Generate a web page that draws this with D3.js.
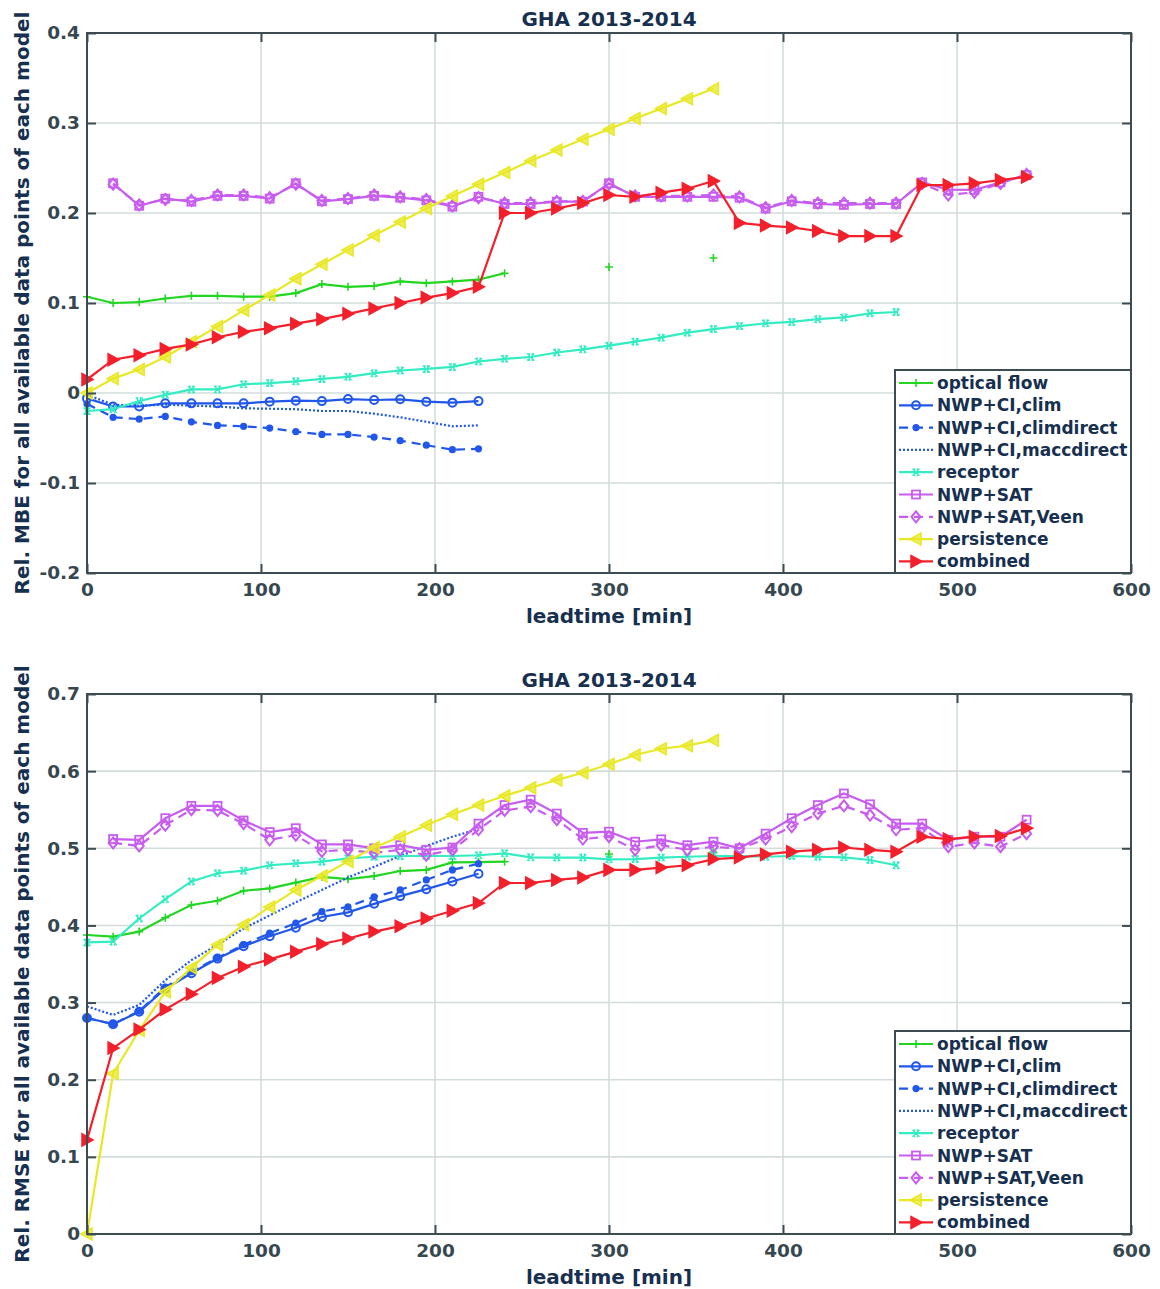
<!DOCTYPE html>
<html>
<head>
<meta charset="utf-8">
<script src="https://cdn.jsdelivr.net/npm/d3@7"></script>
<style>
body { margin: 0; background: #fff; }
text { font-family: "DejaVu Sans", Verdana, sans-serif; font-weight: bold; }
</style>
</head>
<body>
<script>
// eje x: tiempo de previsión (min)
var leadtime = [0, 15, 30, 45, 60, 75, 90, 105, 120, 135, 150, 165, 180, 195, 210, 225, 240, 255, 270, 285,
                300, 315, 330, 345, 360, 375, 390, 405, 420, 435, 450, 465, 480, 495, 510, 525, 540];
var xTicks = [0, 100, 200, 300, 400, 500, 600];
var mbeTicks = [-0.2, -0.1, 0, 0.1, 0.2, 0.3, 0.4];
var rmseTicks = [0, 0.1, 0.2, 0.3, 0.4, 0.5, 0.6, 0.7];

var modelos = ["optical flow", "NWP+CI,clim", "NWP+CI,climdirect", "NWP+CI,maccdirect", "receptor",
               "NWP+SAT", "NWP+SAT,Veen", "persistence", "combined"];

// Rel. MBE
var mbeOptical = [0.107, 0.100, 0.101, 0.105, 0.108, 0.108, 0.107, 0.107, 0.111, 0.121, 0.118, 0.119, 0.124, 0.122, 0.124, 0.126, 0.133,
                  null, null, null, 0.140, null, null, null, 0.150];
var mbeClim = [-0.006, -0.015, -0.015, -0.0115, -0.0115, -0.0115, -0.0115, -0.0096, -0.0085, -0.009, -0.0067, -0.0078, -0.007, -0.0096, -0.0107, -0.009];
var mbeClimdirect = [-0.012, -0.027, -0.029, -0.026, -0.032, -0.036, -0.037, -0.039, -0.043, -0.046, -0.046, -0.049, -0.053, -0.058, -0.063, -0.062];
var mbeMacc = [-0.002, -0.013, -0.014, -0.013, -0.014, -0.015, -0.017, -0.0175, -0.018, -0.02, -0.02, -0.023, -0.027, -0.032, -0.037, -0.036];
var mbeReceptor = [-0.02, -0.018, -0.009, -0.002, 0.004, 0.004, 0.0097, 0.011, 0.013, 0.0156, 0.018, 0.022, 0.025, 0.0267, 0.029, 0.035,
                   0.038, 0.040, 0.045, 0.0485, 0.0526, 0.057, 0.0615, 0.067, 0.071, 0.0744, 0.0774, 0.079, 0.082, 0.084, 0.0885, 0.090];
var mbeSat = [null, 0.233, 0.208, 0.216, 0.2126, 0.219, 0.219, 0.216, 0.233, 0.213, 0.2155, 0.219, 0.217, 0.214, 0.207, 0.218, 0.21, 0.21,
              0.2126, 0.2126, 0.233, 0.218, 0.218, 0.218, 0.218, 0.217, 0.205, 0.213, 0.21, 0.209, 0.21, 0.21, 0.234, 0.226, 0.2256, 0.234, 0.242];
var mbeVeen = [null, 0.232, 0.209, 0.215, 0.214, 0.22, 0.22, 0.217, 0.232, 0.214, 0.216, 0.22, 0.218, 0.215, 0.208, 0.217, 0.211, 0.211,
               0.213, 0.213, 0.232, 0.219, 0.219, 0.219, 0.22, 0.218, 0.206, 0.214, 0.211, 0.211, 0.211, 0.211, 0.233, 0.22, 0.223, 0.233, 0.243];
var mbePersist = [0, 0.016, 0.026, 0.04, 0.057, 0.074, 0.092, 0.109, 0.127, 0.143, 0.159, 0.175, 0.19, 0.205, 0.219, 0.232, 0.245,
                  0.258, 0.27, 0.282, 0.293, 0.305, 0.316, 0.327, 0.338];
var mbeCombined = [0.015, 0.037, 0.042, 0.049, 0.054, 0.062, 0.068, 0.072, 0.077, 0.082, 0.088, 0.094, 0.1, 0.106, 0.111, 0.118,
                   0.2, 0.2, 0.205, 0.211, 0.22, 0.218, 0.2226, 0.227, 0.2356, 0.189, 0.186, 0.184, 0.18, 0.1744, 0.1744, 0.1744,
                   0.231, 0.231, 0.233, 0.2367, 0.24];

// Rel. RMSE
var rmseOptical = [0.3876, 0.3854, 0.392, 0.41, 0.4265, 0.432, 0.445, 0.448, 0.4555, 0.463, 0.46, 0.464, 0.4705, 0.472, 0.4818, 0.482, 0.4826,
                   null, null, null, 0.4926, null, null, null, 0.495];
var rmseClim = [0.28, 0.272, 0.288, 0.318, 0.338, 0.357, 0.373, 0.386, 0.397, 0.411, 0.417, 0.428, 0.438, 0.447, 0.457, 0.467];
var rmseClimdirect = [0.28, 0.272, 0.289, 0.32, 0.34, 0.358, 0.375, 0.39, 0.403, 0.418, 0.424, 0.437, 0.446, 0.459, 0.472, 0.48];
var rmseMacc = [0.295, 0.284, 0.297, 0.329, 0.355, 0.375, 0.396, 0.413, 0.43, 0.446, 0.462, 0.476, 0.49, 0.503, 0.515, 0.525];
var rmseReceptor = [0.378, 0.379, 0.409, 0.434, 0.457, 0.4676, 0.471, 0.478, 0.4805, 0.4826, 0.487, 0.489, 0.49, 0.49, 0.49, 0.491,
                    0.4935, 0.4883, 0.488, 0.488, 0.4857, 0.486, 0.488, 0.489, 0.49, 0.49, 0.489, 0.49, 0.489, 0.4883, 0.4848, 0.478];
var rmseSat = [null, 0.512, 0.511, 0.539, 0.555, 0.555, 0.536, 0.521, 0.526, 0.505, 0.505, 0.5, 0.504, 0.498, 0.501, 0.532, 0.556, 0.563,
               0.545, 0.52, 0.5215, 0.5085, 0.5116, 0.504, 0.5085, 0.5, 0.519, 0.539, 0.556, 0.571, 0.557, 0.532, 0.532, 0.511, 0.515, 0.515, 0.537];
var rmseVeen = [null, 0.507, 0.503, 0.53, 0.55, 0.549, 0.532, 0.511, 0.517, 0.496, 0.498, 0.494, 0.498, 0.491, 0.498, 0.524, 0.549, 0.554,
                0.537, 0.512, 0.515, 0.498, 0.504, 0.498, 0.502, 0.4995, 0.512, 0.528, 0.545, 0.555, 0.543, 0.524, 0.526, 0.502, 0.507, 0.502, 0.519];
var rmsePersist = [0, 0.208, 0.264, 0.314, 0.345, 0.375, 0.401, 0.424, 0.446, 0.464, 0.483, 0.501, 0.515, 0.53, 0.544, 0.556, 0.568,
                   0.5785, 0.5885, 0.598, 0.609, 0.621, 0.629, 0.633, 0.64];
var rmseCombined = [0.122, 0.241, 0.265, 0.291, 0.311, 0.332, 0.3465, 0.356, 0.366, 0.376, 0.383, 0.392, 0.399, 0.409, 0.419, 0.429,
                    0.455, 0.455, 0.459, 0.462, 0.472, 0.472, 0.475, 0.478, 0.486, 0.488, 0.492, 0.4956, 0.498, 0.501, 0.498, 0.4956,
                    0.515, 0.512, 0.515, 0.516, 0.526];

// estilos de cada modelo (color, trazo, marcador)
var estilos = [
  { color: "#22d622", dash: null, marker: "plus" },
  { color: "#2157ea", dash: null, marker: "circle" },
  { color: "#2157ea", dash: "9,6", marker: "dot" },
  { color: "#2157ea", dash: "2,2", marker: null },
  { color: "#33ecc2", dash: null, marker: "star" },
  { color: "#c85cf0", dash: null, marker: "square" },
  { color: "#c85cf0", dash: "9,6", marker: "diamond" },
  { color: "#e8e826", dash: null, marker: "triLeft" },
  { color: "#f3202c", dash: null, marker: "triRight" }
];

var ejeColor = "#3d4c53";
var textoColor = "#37474f";
var tituloColor = "#17304f";

var svg = d3.select("body").append("svg").attr("width", 1160).attr("height", 1289);

function marcador(g, tipo, color, cx, cy) {
  if (tipo == "plus") {
    g.append("path").attr("d", "M" + (cx - 4) + "," + cy + "H" + (cx + 4) + "M" + cx + "," + (cy - 4) + "V" + (cy + 4))
      .attr("stroke", color).attr("stroke-width", 1.6).attr("fill", "none");
  } else if (tipo == "circle") {
    g.append("circle").attr("cx", cx).attr("cy", cy).attr("r", 4)
      .attr("stroke", color).attr("stroke-width", 2).attr("fill", "none");
  } else if (tipo == "dot") {
    g.append("circle").attr("cx", cx).attr("cy", cy).attr("r", 3.6).attr("fill", color);
  } else if (tipo == "star") {
    g.append("path").attr("d", "M" + (cx - 3.5) + "," + (cy - 3.5) + "L" + (cx + 3.5) + "," + (cy + 3.5) +
        "M" + (cx - 3.5) + "," + (cy + 3.5) + "L" + (cx + 3.5) + "," + (cy - 3.5) +
        "M" + (cx - 1.5) + "," + (cy - 4) + "V" + (cy + 4) + "M" + (cx + 1.5) + "," + (cy - 4) + "V" + (cy + 4))
      .attr("stroke", color).attr("stroke-width", 1.4).attr("fill", "none");
  } else if (tipo == "square") {
    g.append("rect").attr("x", cx - 4).attr("y", cy - 4).attr("width", 8).attr("height", 8)
      .attr("stroke", color).attr("stroke-width", 1.8).attr("fill", "none");
  } else if (tipo == "diamond") {
    g.append("path").attr("d", "M" + cx + "," + (cy - 5.5) + "L" + (cx + 4.5) + "," + cy + "L" + cx + "," + (cy + 5.5) + "L" + (cx - 4.5) + "," + cy + "Z")
      .attr("stroke", color).attr("stroke-width", 2).attr("fill", "none");
  } else if (tipo == "triLeft") {
    g.append("path").attr("d", "M" + (cx - 6) + "," + cy + "L" + (cx + 5) + "," + (cy - 6) + "L" + (cx + 5) + "," + (cy + 6) + "Z")
      .attr("stroke", color).attr("stroke-width", 1.5).attr("fill", color).attr("fill-opacity", 0.75);
  } else if (tipo == "triRight") {
    g.append("path").attr("d", "M" + (cx + 6) + "," + cy + "L" + (cx - 5) + "," + (cy - 6) + "L" + (cx - 5) + "," + (cy + 6) + "Z")
      .attr("stroke", color).attr("stroke-width", 1.5).attr("fill", color);
  }
}

function grafica(top, series, yDom, yTicks, yLabel) {
  var left = 87, right = 1131, bottom = top + 540;
  var x = d3.scaleLinear().domain([0, 600]).range([left, right]);
  var y = d3.scaleLinear().domain(yDom).range([bottom, top]);
  var g = svg.append("g");

  // rejilla
  g.append("g").selectAll("line").data(xTicks.slice(1, -1)).enter().append("line")
    .attr("x1", function (d) { return x(d); }).attr("x2", function (d) { return x(d); })
    .attr("y1", top).attr("y2", bottom).attr("stroke", "#d3dcdc").attr("stroke-width", 1.6);
  g.append("g").selectAll("line").data(yTicks.slice(1, -1)).enter().append("line")
    .attr("y1", function (d) { return y(d); }).attr("y2", function (d) { return y(d); })
    .attr("x1", left).attr("x2", right).attr("stroke", "#d3dcdc").attr("stroke-width", 1.6);

  // series
  series.forEach(function (vals, i) {
    var est = estilos[i];
    var pts = leadtime.map(function (t, j) { return { t: t, v: (vals[j] === undefined ? null : vals[j]) }; });
    var linea = d3.line().defined(function (d) { return d.v !== null; })
      .x(function (d) { return x(d.t); }).y(function (d) { return y(d.v); });
    g.append("path").datum(pts).attr("d", linea).attr("fill", "none")
      .attr("stroke", est.color).attr("stroke-width", 2.2)
      .attr("stroke-dasharray", est.dash);
    if (est.marker) {
      var gm = g.append("g");
      pts.forEach(function (p) {
        if (p.v !== null) marcador(gm, est.marker, est.color, x(p.t), y(p.v));
      });
    }
  });

  // ejes con ticks hacia dentro
  var fmt = function (d) { return String(+d.toFixed(1)); };
  var ejes = [
    g.append("g").attr("transform", "translate(0," + bottom + ")")
      .call(d3.axisBottom(x).tickValues(xTicks).tickSizeInner(-9).tickSizeOuter(0).tickPadding(10).tickFormat(fmt)),
    g.append("g").attr("transform", "translate(0," + top + ")")
      .call(d3.axisTop(x).tickValues(xTicks).tickSizeInner(-9).tickSizeOuter(0).tickFormat("")),
    g.append("g").attr("transform", "translate(" + left + ",0)")
      .call(d3.axisLeft(y).tickValues(yTicks).tickSizeInner(-9).tickSizeOuter(0).tickPadding(7).tickFormat(fmt)),
    g.append("g").attr("transform", "translate(" + right + ",0)")
      .call(d3.axisRight(y).tickValues(yTicks).tickSizeInner(-9).tickSizeOuter(0).tickFormat(""))
  ];
  ejes.forEach(function (e) {
    e.select(".domain").remove();
    e.selectAll("line").attr("stroke", ejeColor).attr("stroke-width", 2);
    e.selectAll("text").attr("fill", textoColor).style("font-size", "18.5px")
      .style("font-family", "'DejaVu Sans', sans-serif").style("font-weight", "bold");
  });
  g.append("rect").attr("x", left).attr("y", top).attr("width", right - left).attr("height", bottom - top)
    .attr("fill", "none").attr("stroke", ejeColor).attr("stroke-width", 2);

  // textos
  g.append("text").attr("x", (left + right) / 2).attr("y", top - 7.5).attr("text-anchor", "middle")
    .attr("fill", tituloColor).style("font-size", "20px").text("GHA 2013-2014");
  g.append("text").attr("x", (left + right) / 2).attr("y", bottom + 50).attr("text-anchor", "middle")
    .attr("fill", tituloColor).style("font-size", "20px").text("leadtime [min]");
  g.append("text").attr("transform", "translate(29," + ((top + bottom) / 2) + ") rotate(-90)")
    .attr("text-anchor", "middle").attr("fill", tituloColor).style("font-size", "20px").text(yLabel);

  // leyenda
  var lx = 895, ly = bottom - 203;
  var leg = g.append("g");
  leg.append("rect").attr("x", lx).attr("y", ly).attr("width", right - lx).attr("height", bottom - ly)
    .attr("fill", "#fff").attr("stroke", ejeColor).attr("stroke-width", 2);
  modelos.forEach(function (nombre, i) {
    var est = estilos[i];
    var cy = ly + 13 + i * 22.3;
    leg.append("line").attr("x1", lx + 4).attr("x2", lx + 38).attr("y1", cy).attr("y2", cy)
      .attr("stroke", est.color).attr("stroke-width", 2.2).attr("stroke-dasharray", est.dash);
    if (est.marker) marcador(leg, est.marker, est.color, lx + 21, cy);
    leg.append("text").attr("x", lx + 42).attr("y", cy + 6).attr("fill", tituloColor)
      .style("font-size", "17px").text(nombre);
  });
}

grafica(33, [mbeOptical, mbeClim, mbeClimdirect, mbeMacc, mbeReceptor, mbeSat, mbeVeen, mbePersist, mbeCombined],
  [-0.2, 0.4], mbeTicks, "Rel. MBE for all available data points of each model");
grafica(694, [rmseOptical, rmseClim, rmseClimdirect, rmseMacc, rmseReceptor, rmseSat, rmseVeen, rmsePersist, rmseCombined],
  [0, 0.7], rmseTicks, "Rel. RMSE for all available data points of each model");
</script>
</body>
</html>
